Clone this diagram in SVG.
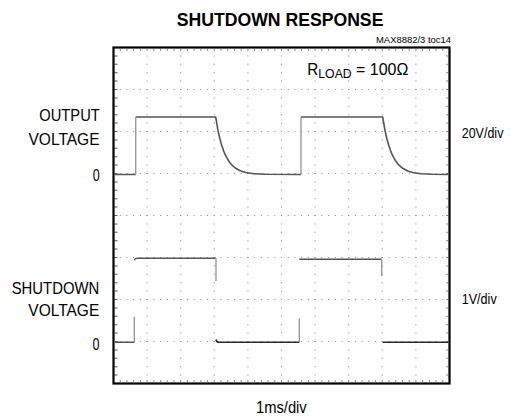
<svg xmlns="http://www.w3.org/2000/svg" width="513" height="417" viewBox="0 0 513 417">
<style>
text{font-family:"Liberation Sans",Arial,sans-serif;fill:#000}
.lbl{font-size:17px}
.gv{stroke:#8a8a8a;stroke-width:1.1;stroke-dasharray:1 7.4;stroke-dashoffset:0.5;fill:none}
.gh{stroke:#8a8a8a;stroke-width:1.1;stroke-dasharray:1 5.72;stroke-dashoffset:0.5;fill:none}
.tr{fill:none;stroke:#555;stroke-width:1.6;stroke-linejoin:round}
.edge{fill:none;stroke:#9a9a9a;stroke-width:1.4}
.dk{fill:none;stroke:#2a2a2a;stroke-width:1.6}
</style>
<rect width="513" height="417" fill="#fff"/>
<g id="title">
<text x="176.7" y="26" font-size="17.5" font-weight="bold" textLength="206.7" lengthAdjust="spacingAndGlyphs">SHUTDOWN RESPONSE</text>
<text x="376" y="43.3" font-size="9.5" textLength="75" lengthAdjust="spacingAndGlyphs">MAX8882/3 toc14</text>
</g>
<g id="graticule">
<path class="gv" d="M147.1,47.5V383.5M180.7,47.5V383.5M214.3,47.5V383.5M247.9,47.5V383.5M281.5,47.5V383.5M315.1,47.5V383.5M348.7,47.5V383.5M382.3,47.5V383.5M415.9,47.5V383.5"/>
<path class="gh" d="M113.5,89.5H449.5M113.5,131.5H449.5M113.5,173.5H449.5M113.5,215.5H449.5M113.5,257.5H449.5M113.5,299.5H449.5M113.5,341.5H449.5"/>
<path class="gv" style="stroke-width:3;stroke:#555" d="M116,47.5V383.5"/>
<path class="gv" style="stroke-width:2" d="M447,47.5V383.5"/>
<path class="gh" style="stroke-width:2" d="M113.5,50H449.5M113.5,381H449.5"/>
<rect id="frame" x="113.5" y="47.5" width="336" height="336" fill="none" stroke="#000" stroke-width="2.2"/>
</g>
<g id="rload">
<text class="lbl"><tspan x="307.3" y="75" textLength="11" lengthAdjust="spacingAndGlyphs">R</tspan><tspan x="318.3" y="78.3" font-size="13.5" textLength="33.4" lengthAdjust="spacingAndGlyphs">LOAD</tspan><tspan x="351.7" y="75" textLength="56.6" lengthAdjust="spacingAndGlyphs"> = 100Ω</tspan></text>
</g>
<g id="output-voltage">
<text class="lbl" x="39.3" y="121" textLength="60.5" lengthAdjust="spacingAndGlyphs">OUTPUT</text>
<text class="lbl" x="28.5" y="145" textLength="71" lengthAdjust="spacingAndGlyphs">VOLTAGE</text>
<text class="lbl" x="92.8" y="180.5" textLength="7" lengthAdjust="spacingAndGlyphs">0</text>
<text x="461.7" y="138.3" font-size="15" textLength="41.7" lengthAdjust="spacingAndGlyphs">20V/div</text>
</g>
<g id="shutdown-voltage">
<text class="lbl" x="11.7" y="294" textLength="87.6" lengthAdjust="spacingAndGlyphs">SHUTDOWN</text>
<text class="lbl" x="28.3" y="316" textLength="71" lengthAdjust="spacingAndGlyphs">VOLTAGE</text>
<text class="lbl" x="92.5" y="350" textLength="7" lengthAdjust="spacingAndGlyphs">0</text>
<text x="461.7" y="304.3" font-size="15" textLength="35" lengthAdjust="spacingAndGlyphs">1V/div</text>
</g>
<g id="time-axis">
<text class="lbl" x="256" y="412.7" textLength="50.7" lengthAdjust="spacingAndGlyphs">1ms/div</text>
</g>
<g id="traces">
<path class="tr" d="M114.5,174.5H135.7M135.7,117H215.7L217.7,128.9L219.7,138L221.7,145.2L223.7,151.1L225.7,155.7L228.7,161.1L231.7,164.9L235.7,168.3L240.7,171L245.7,172.5L253.7,173.7L265.7,174.3L301,174.5M301,117H382.7L384.7,128.9L386.7,138L388.7,145.2L390.7,151.1L392.7,155.7L395.7,161.1L398.7,164.9L402.7,168.3L407.7,171L412.7,172.5L420.7,173.7L432.7,174.3L448.5,174.5"/>
<path class="edge" d="M135.7,174.5V117M301,174.5V117"/>
<path class="tr" d="M114.5,342.3H134.3M134.3,260.3Q135,258.3 137,258.3H216M299.3,259.3H381.7"/>
<path class="dk" d="M216,339.5Q216.5,342.3 219,342.3H299.3M382.7,342.3H448.5"/>
<path class="edge" d="M134.3,342.3V316.7M216,258.3V281M299.3,342.3V318.3M381.7,259.3V276"/>
</g>
</svg>
